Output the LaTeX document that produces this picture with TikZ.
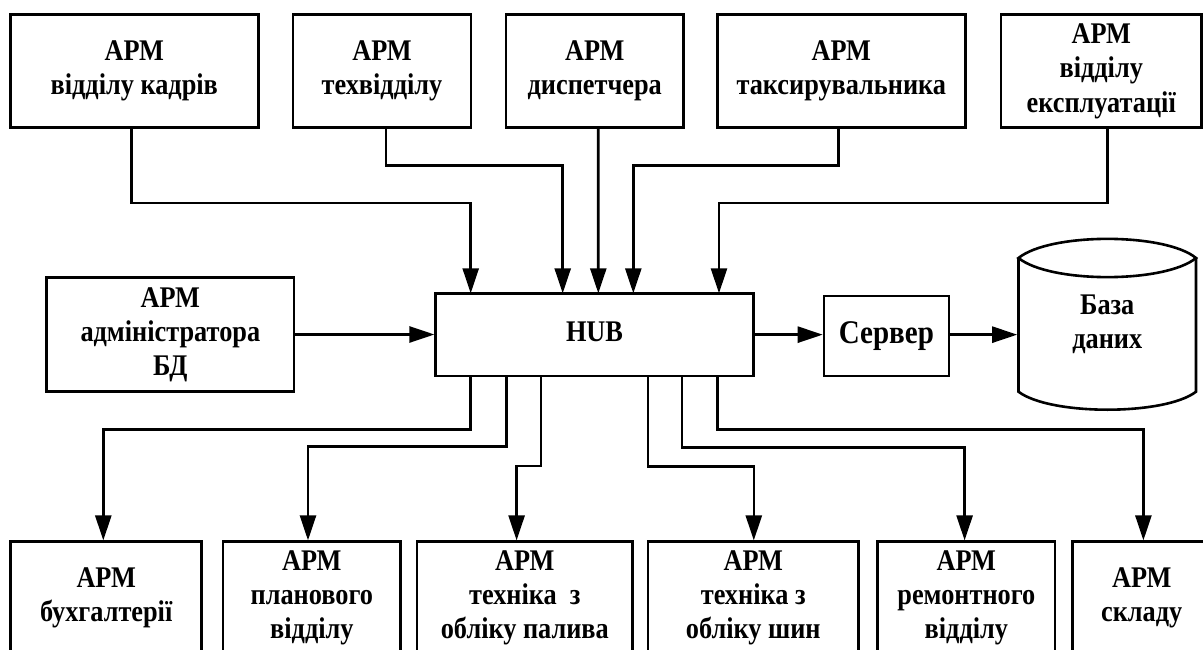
\documentclass[tikz,border=0pt]{standalone}
\usepackage{fontspec}
\usepackage{graphicx}
\setmainfont{Liberation Serif}
\usetikzlibrary{arrows.meta}
\newcommand{\tx}[1]{\scalebox{1}[1.14]{\begin{tabular}{@{}c@{}}#1\end{tabular}}}
\begin{document}
\begin{tikzpicture}[x=1pt,y=1pt,
  box/.style={draw, line width=2.6pt, inner sep=0pt, align=center,
    font=\fontsize{26.3}{30}\selectfont\bfseries},
  arr/.style={line width=2.6pt, -{Triangle[length=25pt,width=16pt]}},
  ln/.style={line width=2.6pt}]
\useasboundingbox (0,0) rectangle (1203,-650);
\fill[white] (0,0) rectangle (1203,-650);
\clip (0,0) rectangle (1203,-650);
% top row
\node[box, minimum width=248, minimum height=113] (t1) at (134.3,-71) {\tx{АРМ\\відділу кадрів}};
\node[box, minimum width=178, minimum height=113] (t2) at (382,-71) {\tx{АРМ\\техвідділу}};
\node[box, minimum width=177.5, minimum height=113] (t3) at (594.75,-71) {\tx{АРМ\\диспетчера}};
\node[box, minimum width=248, minimum height=113] (t4) at (841.35,-71) {\tx{АРМ\\таксирувальника}};
\node[box, minimum width=200.5, minimum height=113] (t5) at (1101.25,-71) {\tx{АРМ\\відділу\\експлуатації}};
% middle row
\node[box, minimum width=247.3, minimum height=114.4] (adm) at (170.35,-334.5) {\tx{АРМ\\адміністратора\\БД}};
\node[box, minimum width=317.6, minimum height=82.7] (hub) at (594.5,-334.65) {\tx{HUB}};
\node[box, minimum width=124.8, minimum height=80, font=\fontsize{29}{32}\selectfont\bfseries] (srv) at (886.4,-336) {\tx{Сервер}};
% database cylinder
\draw[ln] (1018.5,-258) .. controls (1050,-232.5) and (1165,-232.5) .. (1196,-258)
          .. controls (1165,-283.5) and (1050,-283.5) .. (1018.5,-258) -- cycle;
\draw[ln] (1018.5,-258) -- (1018.5,-391.7) .. controls (1050,-415.7) and (1165,-415.7) .. (1196,-391.7) -- (1196,-258);
\node[box, draw=none, minimum width=177.5, minimum height=130] (db) at (1107.25,-325) {\tx{База\\даних}};
% bottom row
\node[box, minimum width=191, minimum height=112] (b1) at (106.2,-597.7) {\tx{АРМ\\бухгалтерії}};
\node[box, minimum width=177.7, minimum height=112] (b2) at (311.85,-597.7) {\tx{АРМ\\планового\\відділу}};
\node[box, minimum width=215.7, minimum height=112] (b3) at (524.85,-597.7) {\tx{АРМ\\техніка\ \ з\\обліку палива}};
\node[box, minimum width=210.5, minimum height=112] (b4) at (753.25,-597.7) {\tx{АРМ\\техніка з\\обліку шин}};
\node[box, minimum width=177.3, minimum height=112] (b5) at (966.35,-597.7) {\tx{АРМ\\ремонтного\\відділу}};
\node[box, minimum width=139, minimum height=112] (b6) at (1141.7,-597.7) {\tx{АРМ\\складу}};
% hub entry/exit points
\coordinate (h1) at (470.7,-293.3);
\coordinate (h2) at (562.7,-293.3);
\coordinate (h3) at (598.3,-293.3);
\coordinate (h4) at (633.3,-293.3);
\coordinate (h5) at (719,-293.3);
\coordinate (g1) at (470.7,-376);
\coordinate (g2) at (506.3,-376);
\coordinate (g3) at (540.8,-376);
\coordinate (g4) at (648,-376);
\coordinate (g5) at (682,-376);
\coordinate (g6) at (717.3,-376);
% top connectors
\draw[arr] ([xshift=-3pt]t1.south) -- ++(0,-74.2) -| (h1);
\draw[arr] ([xshift=3.8pt]t2.south) -- ++(0,-36.8) -| (h2);
\draw[arr] ([xshift=3.5pt]t3.south) -- (h3);
\draw[arr] ([xshift=-2.85pt]t4.south) -- ++(0,-36.8) -| (h4);
\draw[arr] ([xshift=6.45pt]t5.south) -- ++(0,-74.2) -| (h5);
% middle connectors
\draw[arr] (adm.east) -- (adm.east -| hub.west);
\draw[arr] (hub.east) -- (hub.east -| srv.west);
\draw[arr] (srv.east |- hub.east) -- (hub.east -| db.west);
% bottom connectors
\draw[arr] (g1) -- ++(0,-53.3) -| ([xshift=-2.9pt]b1.north);
\draw[arr] (g2) -- ++(0,-70.7) -| ([xshift=-3.85pt]b2.north);
\draw[arr] (g3) -- ++(0,-90) -| ([xshift=-8.25pt]b3.north);
\draw[arr] (g4) -- ++(0,-90.7) -| ([xshift=0.55pt]b4.north);
\draw[arr] (g5) -- ++(0,-71.7) -| ([xshift=-1.75pt]b5.north);
\draw[arr] (g6) -- ++(0,-53.3) -| ([xshift=1.7pt]b6.north);
\end{tikzpicture}
\end{document}
